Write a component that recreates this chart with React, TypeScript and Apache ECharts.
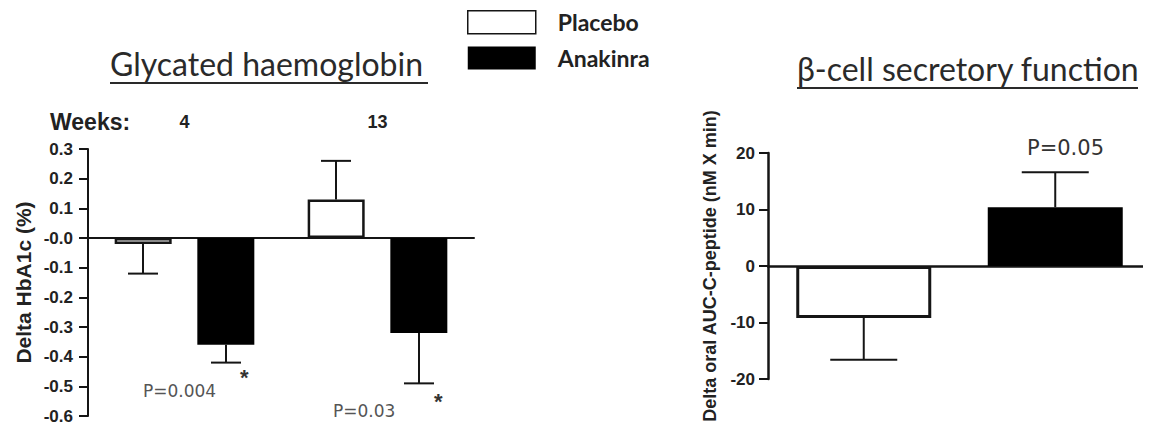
import React, { useEffect, useRef } from "react";
import * as echarts from "echarts";

// ---- data ----
const weeks = ["4", "13"];
const placeboHbA1c = [-0.02, 0.13];
const placeboHbA1cSE = [0.1, 0.13];
const anakinraHbA1c = [-0.36, -0.32];
const anakinraHbA1cSE = [0.06, 0.17];
const hbTicksMin = -0.6;
const hbTicksMax = 0.3;
const hbInterval = 0.1;

const groups = ["Placebo", "Anakinra"];
const cPeptide = [-9.2, 10.4];
const cPeptideSE = [7.4, 6.2];
const cpMin = -20;
const cpMax = 20;
const cpInterval = 10;

const pValues = ["P=0.004", "P=0.03", "P=0.05"];

const INK = "#151515";
const TICK_FONT = "Liberation Sans";

function errorBarSeries(
  name: string,
  xAxisIndex: number,
  yAxisIndex: number,
  data: number[][],
  offset: number,
  cap: number
) {
  return {
    type: "custom",
    name,
    xAxisIndex,
    yAxisIndex,
    z: 3,
    silent: true,
    data,
    renderItem: (_params: any, api: any) => {
      const x = api.value(0);
      const m = api.value(1);
      const e = api.value(2);
      const base = api.coord([x, m]);
      const end = api.coord([x, m + (m >= 0 ? e : -e)]);
      const cx = base[0] + offset;
      const style = { stroke: INK, lineWidth: 2 };
      return {
        type: "group",
        children: [
          { type: "line", shape: { x1: cx, y1: base[1], x2: cx, y2: end[1] }, style },
          { type: "line", shape: { x1: cx - cap / 2, y1: end[1], x2: cx + cap / 2, y2: end[1] }, style },
        ],
      };
    },
  };
}

export default function App() {
  const ref = useRef<HTMLDivElement>(null);

  useEffect(() => {
    if (!ref.current) return;
    const chart = echarts.init(ref.current, null, { renderer: "svg" });

    const tickLabel = {
      color: "#222",
      fontFamily: TICK_FONT,
      fontWeight: "bold",
      fontSize: 17,
      margin: 15,
    };

    const option: any = {
      animation: false,
      backgroundColor: "#fff",
      legend: {
        left: 462,
        top: 5,
        orient: "vertical",
        icon: "rect",
        itemWidth: 68,
        itemHeight: 23,
        itemGap: 12,
        selectedMode: false,
        textStyle: {
          fontFamily: "Lato",
          fontSize: 23,
          fontWeight: "bold",
          color: "#222",
          padding: [0, 0, 0, 17],
        },
        data: [
          { name: "Placebo", itemStyle: { color: "#fff", borderColor: INK, borderWidth: 1.5 } },
          { name: "Anakinra", itemStyle: { color: "#000", borderColor: "#000", borderWidth: 0 } },
        ],
      },
      grid: [
        { left: 88, top: 149, width: 386, height: 267 },
        { left: 768, top: 153, width: 396, height: 226 },
      ],
      xAxis: [
        {
          type: "category",
          gridIndex: 0,
          data: weeks,
          axisLine: { onZero: true, lineStyle: { color: INK, width: 2 } },
          axisTick: { show: false },
          axisLabel: { show: false },
        },
        {
          type: "category",
          gridIndex: 0,
          position: "top",
          data: weeks,
          axisLine: { show: false },
          axisTick: { show: false },
          axisLabel: { ...tickLabel, fontSize: 18, margin: 18 },
        },
        {
          type: "category",
          gridIndex: 1,
          data: groups,
          axisLine: { onZero: true, lineStyle: { color: INK, width: 2.5 } },
          axisTick: { show: false },
          axisLabel: { show: false },
        },
      ],
      yAxis: [
        {
          type: "value",
          gridIndex: 0,
          min: hbTicksMin,
          max: hbTicksMax,
          interval: hbInterval,
          name: "Delta HbA1c (%)",
          nameLocation: "middle",
          nameGap: 54,
          nameTextStyle: { fontFamily: TICK_FONT, fontWeight: "bold", fontSize: 21, color: "#222" },
          axisLine: { show: true, lineStyle: { color: INK, width: 2 } },
          axisTick: { show: true, length: 9, lineStyle: { color: INK, width: 2 } },
          splitLine: { show: false },
          axisLabel: {
            ...tickLabel,
            formatter: (v: number) => (Math.abs(v) < 1e-9 ? "-0.0" : v.toFixed(1)),
          },
        },
        {
          type: "value",
          gridIndex: 1,
          min: cpMin,
          max: cpMax,
          interval: cpInterval,
          name: "Delta oral AUC-C-peptide (nM X min)",
          nameLocation: "middle",
          nameGap: 49,
          nameTextStyle: { fontFamily: TICK_FONT, fontWeight: "bold", fontSize: 18, color: "#222" },
          axisLine: { show: true, lineStyle: { color: INK, width: 2.5 } },
          axisTick: { show: true, length: 9, lineStyle: { color: INK, width: 2 } },
          splitLine: { show: false },
          axisLabel: { ...tickLabel, margin: 13 },
        },
      ],
      series: [
        {
          type: "bar",
          name: "Placebo",
          xAxisIndex: 0,
          yAxisIndex: 0,
          data: placeboHbA1c,
          barWidth: 57,
          barGap: "45%",
          itemStyle: { color: "#fff", borderColor: INK, borderWidth: 2.5 },
        },
        {
          type: "bar",
          name: "Anakinra",
          xAxisIndex: 0,
          yAxisIndex: 0,
          data: anakinraHbA1c,
          barWidth: 57,
          barGap: "45%",
          itemStyle: { color: "#000" },
        },
        errorBarSeries(
          "Placebo SE",
          0,
          0,
          placeboHbA1c.map((v, i) => [i, v, placeboHbA1cSE[i]]),
          -41.5,
          30
        ),
        errorBarSeries(
          "Anakinra SE",
          0,
          0,
          anakinraHbA1c.map((v, i) => [i, v, anakinraHbA1cSE[i]]),
          41.5,
          30
        ),
        {
          type: "bar",
          name: "Placebo",
          xAxisIndex: 2,
          yAxisIndex: 1,
          stack: "cp",
          data: [cPeptide[0], "-"],
          barWidth: 135,
          itemStyle: { color: "#fff", borderColor: INK, borderWidth: 3 },
        },
        {
          type: "bar",
          name: "Anakinra",
          xAxisIndex: 2,
          yAxisIndex: 1,
          stack: "cp",
          data: ["-", cPeptide[1]],
          barWidth: 135,
          itemStyle: { color: "#000" },
        },
        errorBarSeries(
          "C-peptide SE",
          2,
          1,
          cPeptide.map((v, i) => [i, v, cPeptideSE[i]]),
          0,
          67
        ),
      ],
      graphic: [
        {
          type: "text",
          left: 110,
          top: 47,
          style: { text: "Glycated haemoglobin", fontFamily: "Lato", fontSize: 32, fill: "#2a2a2a" },
        },
        { type: "line", shape: { x1: 110, y1: 83, x2: 428, y2: 83 }, style: { stroke: "#2a2a2a", lineWidth: 1.8 } },
        {
          type: "text",
          left: 797,
          top: 52,
          style: { text: "β-cell secretory function", fontFamily: "Lato", fontSize: 32, fill: "#2a2a2a" },
        },
        { type: "line", shape: { x1: 797, y1: 88, x2: 1138, y2: 88 }, style: { stroke: "#2a2a2a", lineWidth: 1.8 } },
        {
          type: "text",
          left: 50,
          top: 110,
          style: { text: "Weeks:", fontFamily: TICK_FONT, fontWeight: "bold", fontSize: 23, fill: "#222" },
        },
        {
          type: "text",
          left: 143,
          top: 382,
          style: { text: pValues[0], fontFamily: "DejaVu Sans", fontSize: 17, fill: "#555" },
        },
        {
          type: "text",
          left: 333,
          top: 402,
          style: { text: pValues[1], fontFamily: "DejaVu Sans", fontSize: 17, fill: "#555" },
        },
        {
          type: "text",
          left: 1027,
          top: 137,
          style: { text: pValues[2], fontFamily: "DejaVu Sans", fontSize: 21, fill: "#333" },
        },
        {
          type: "text",
          left: 240,
          top: 366,
          style: { text: "*", fontFamily: TICK_FONT, fontWeight: "bold", fontSize: 22, fill: "#333" },
        },
        {
          type: "text",
          left: 434,
          top: 390,
          style: { text: "*", fontFamily: TICK_FONT, fontWeight: "bold", fontSize: 22, fill: "#333" },
        },
      ],
    };

    chart.setOption(option);
    return () => chart.dispose();
  }, []);

  return <div ref={ref} style={{ width: 1151, height: 432, margin: -8 }} />;
}
